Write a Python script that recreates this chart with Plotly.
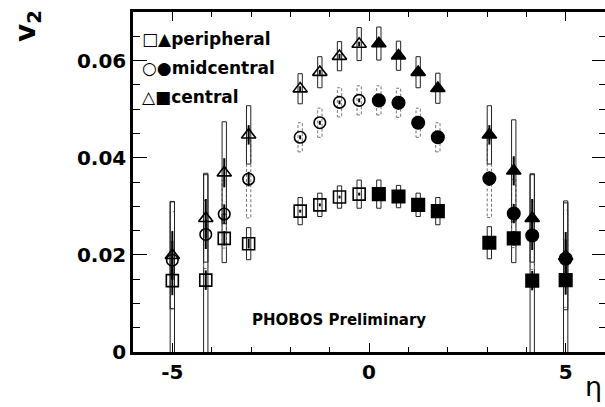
import plotly.graph_objects as go

# ---- data ----
eta_neg = [-5.0, -4.15, -3.68, -3.06, -1.75, -1.25, -0.75, -0.25]
eta_pos = [0.25, 0.75, 1.25, 1.75, 3.06, 3.68, 4.15, 5.0]

# triangles
tri_neg = [0.0199, 0.0275, 0.0369, 0.0447, 0.0542, 0.0576, 0.0609, 0.0634]
tri_pos = [0.0635, 0.0610, 0.0576, 0.0543, 0.0447, 0.0373, 0.0275, 0.0197]
tri_sys_neg = [0.011, 0.009, 0.0105, 0.006, 0.0031, 0.0032, 0.0030, 0.0034]
tri_sys_pos = [0.0034, 0.0030, 0.0032, 0.0031, 0.006, 0.0105, 0.009, 0.011]
tri_stat_neg = [0.005, 0.004, 0.003, 0.002, 0.0005, 0.0005, 0.0005, 0.0005]
tri_stat_pos = [0.0005, 0.0005, 0.0005, 0.0005, 0.002, 0.003, 0.004, 0.005]

# circles
cir_neg = [0.0189, 0.0242, 0.0284, 0.0356, 0.0442, 0.0472, 0.0514, 0.0518]
cir_pos = [0.0518, 0.0513, 0.0472, 0.0442, 0.0357, 0.0285, 0.0240, 0.0192]
cir_sys_neg = [0.010, 0.007, 0.007, 0.008, 0.003, 0.003, 0.003, 0.003]
cir_sys_pos = [0.003, 0.003, 0.003, 0.003, 0.008, 0.007, 0.007, 0.010]
cir_stat_neg = [0.004, 0.003, 0.002, 0.0015, 0.0004, 0.0004, 0.0004, 0.0004]
cir_stat_pos = [0.0004, 0.0004, 0.0004, 0.0004, 0.0015, 0.002, 0.003, 0.004]

# squares
sq_neg = [0.0147, 0.0148, 0.0234, 0.0223, 0.0290, 0.0303, 0.0319, 0.0325]
sq_pos = [0.0325, 0.0320, 0.0303, 0.0290, 0.0225, 0.0234, 0.0147, 0.0148]
sq_sys_neg = [0.0163, 0.022, 0.005, 0.0033, 0.0028, 0.0024, 0.0023, 0.0029]
sq_sys_pos = [0.0029, 0.0023, 0.0024, 0.0028, 0.0033, 0.005, 0.022, 0.0163]
sq_stat_neg = [0.003, 0.002, 0.0015, 0.001, 0.0003, 0.0003, 0.0003, 0.0003]
sq_stat_pos = [0.0003, 0.0003, 0.0003, 0.0003, 0.001, 0.0015, 0.002, 0.003]

y_tickvals = [0, 0.02, 0.04, 0.06]
y_ticktext = ["0", "0.02", "0.04", "0.06"]
x_tickvals = [-5, 0, 5]
x_ticktext = ["-5", "0", "5"]

legend_rows = ["□▲peripheral", "○●midcentral", "△■central"]

FONT = "DejaVu Sans"
HW = 0.055  # half width of systematic boxes (eta units)


def box_path(etas, vals, sys):
    xs, ys = [], []
    for e, v, s in zip(etas, vals, sys):
        xs += [e - HW, e + HW, e + HW, e - HW, e - HW, None]
        ys += [v - s, v - s, v + s, v + s, v - s, None]
    return xs, ys


fig = go.Figure()

# systematic boxes
for etas, vals, sys, dash, col in [
    (eta_neg, sq_neg, sq_sys_neg, "solid", "#222"),
    (eta_pos, sq_pos, sq_sys_pos, "solid", "#222"),
    (eta_neg, cir_neg, cir_sys_neg, "3px,2px", "#777"),
    (eta_pos, cir_pos, cir_sys_pos, "3px,2px", "#777"),
    (eta_neg, tri_neg, tri_sys_neg, "solid", "#222"),
    (eta_pos, tri_pos, tri_sys_pos, "solid", "#222"),
]:
    bx, by = box_path(etas, vals, sys)
    fig.add_trace(go.Scatter(x=bx, y=by, mode="lines",
                             line=dict(color=col, width=1, dash=dash),
                             hoverinfo="skip", showlegend=False))

# points with statistical errors
for etas, vals, stat, sym, size in [
    (eta_neg, sq_neg, sq_stat_neg, "square-open", 12),
    (eta_pos, sq_pos, sq_stat_pos, "square", 12.5),
    (eta_neg, cir_neg, cir_stat_neg, "circle-open", 11.5),
    (eta_pos, cir_pos, cir_stat_pos, "circle", 12.5),
    (eta_neg, tri_neg, tri_stat_neg, "triangle-up-open", 12.5),
    (eta_pos, tri_pos, tri_stat_pos, "triangle-up", 12.5),
]:
    fig.add_trace(go.Scatter(
        x=etas, y=vals, mode="markers",
        marker=dict(symbol=sym, size=size, color="black",
                    line=dict(color="black", width=1.6)),
        error_y=dict(type="data", array=stat, thickness=2, width=0, color="black"),
        showlegend=False))

# invisible trace that puts the right-hand tick axis into the subplot
fig.add_trace(go.Scatter(x=[None], y=[None], yaxis="y2", mode="markers",
                         showlegend=False, hoverinfo="skip"))

tfont = dict(family=FONT, size=20, color="black", weight="bold")

fig.update_layout(
    xaxis=dict(range=[-6, 6], tickmode="array", tickvals=x_tickvals, ticktext=x_ticktext,
               showline=True, linecolor="black", linewidth=2.5, mirror="ticks",
               ticks="inside", tickcolor="black", ticklen=9, tickwidth=1,
               showgrid=False, zeroline=False, tickfont=tfont,
               minor=dict(ticks="inside", ticklen=5, tickmode="linear", dtick=1,
                          tick0=0, tickcolor="black", showgrid=False)),
    yaxis=dict(range=[0, 0.07], tickmode="array", tickvals=y_tickvals, ticktext=y_ticktext,
               showline=True, linecolor="black", linewidth=2.5, mirror=False,
               ticks="inside", tickcolor="black", ticklen=14, tickwidth=1,
               showgrid=False, zeroline=False, tickfont=tfont,
               minor=dict(ticks="inside", ticklen=7, tickmode="linear", dtick=0.005,
                          tick0=0, tickcolor="black", showgrid=False)),
    yaxis2=dict(range=[0, 0.07], overlaying="y", side="right", tickmode="array",
                tickvals=y_tickvals, showticklabels=False, showline=False,
                ticks="inside", tickcolor="black", ticklen=13, tickwidth=1,
                showgrid=False, zeroline=False,
                minor=dict(ticks="inside", ticklen=6, tickmode="linear", dtick=0.005,
                           tick0=0, tickcolor="black", showgrid=False)),
)

ann = []
for i, row in enumerate(legend_rows):
    ann.append(dict(text=row, xref="paper", yref="paper", x=0.015,
                    y=[0.9206, 0.835, 0.75][i], xanchor="left", yanchor="middle",
                    showarrow=False,
                    font=dict(family=FONT, size=17, color="black", weight="bold")))
ann.append(dict(text="PHOBOS Preliminary", xref="paper", yref="paper", x=0.248, y=0.094,
                xanchor="left", yanchor="middle", showarrow=False,
                font=dict(family=FONT, size=15, color="black", weight="bold")))
ann.append(dict(text="v<sub>2</sub>", xref="paper", yref="paper", x=-0.2225, y=0.959,
                xanchor="center", yanchor="middle", textangle=-90, showarrow=False,
                font=dict(family=FONT, size=28, color="black", weight="bold")))
ann.append(dict(text="η", xref="paper", yref="paper", x=0.997, y=-0.102,
                xanchor="right", yanchor="middle", showarrow=False,
                font=dict(family=FONT, size=27, color="black")))

fig.update_layout(width=605, height=407, margin=dict(l=133, r=0, t=12, b=55),
                  plot_bgcolor="white", paper_bgcolor="white", annotations=ann)

fig.write_html("out.html")
